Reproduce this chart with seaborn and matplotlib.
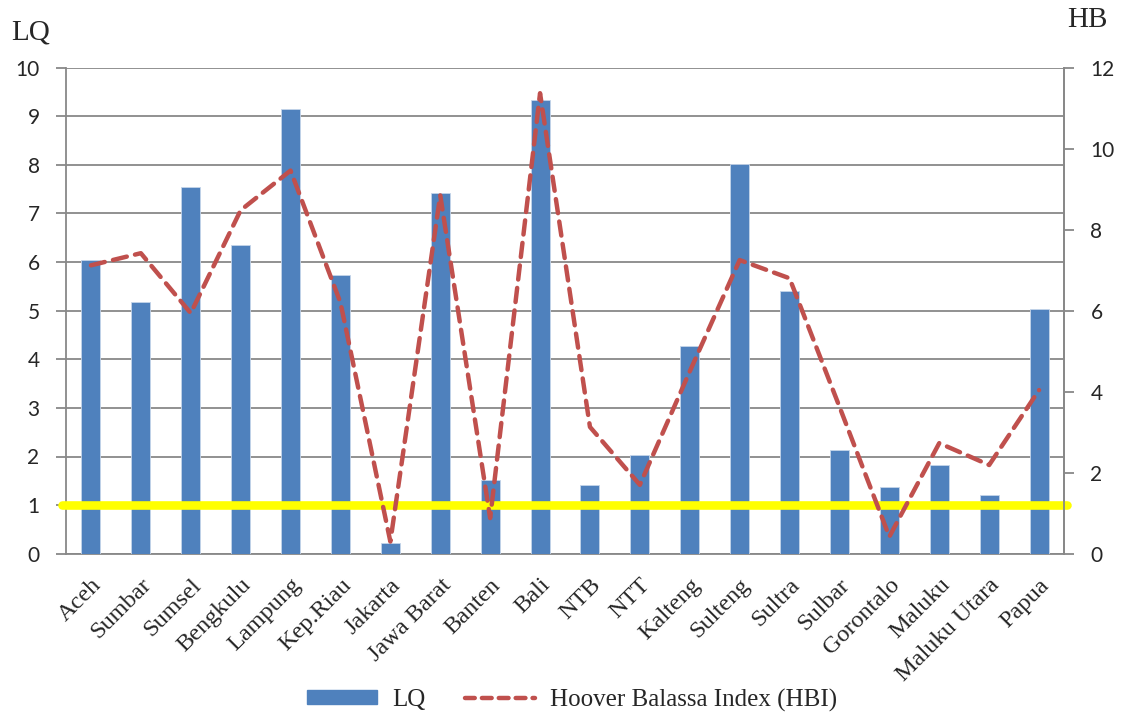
import numpy as np
import pandas as pd
import matplotlib
matplotlib.use("Agg")
import matplotlib.pyplot as plt
import matplotlib.transforms as mtransforms
import seaborn as sns
from matplotlib.patches import Patch
from matplotlib.lines import Line2D

categories = ["Aceh", "Sumbar", "Sumsel", "Bengkulu", "Lampung", "Kep.Riau", "Jakarta",
              "Jawa Barat", "Banten", "Bali", "NTB", "NTT", "Kalteng", "Sulteng", "Sultra",
              "Sulbar", "Gorontalo", "Maluku", "Maluku Utara", "Papua"]
lq = [6.04, 5.17, 7.54, 6.36, 9.14, 5.73, 0.22, 7.43, 1.52, 9.33,
      1.42, 2.03, 4.27, 8.02, 5.40, 2.13, 1.38, 1.82, 1.21, 5.03]
hbi = [7.12, 7.42, 5.94, 8.48, 9.46, 6.20, 0.30, 8.85, 0.88, 11.37,
       3.13, 1.70, 4.50, 7.25, 6.80, 3.63, 0.42, 2.73, 2.19, 4.04]
lq_ticks = list(range(0, 11))
hb_ticks = list(range(0, 13, 2))
threshold = 1

bar_color = "#4F81BD"
line_color = "#C0504D"
grid_color = "#888888"

sns.set_theme(style="white")
plt.rcParams["font.family"] = ["Lato", "DejaVu Sans"]

df = pd.DataFrame({"region": categories, "LQ": lq, "HBI": hbi, "pos": np.arange(len(categories))})

fig = plt.figure(figsize=(11.21, 7.17), dpi=100)
ax = fig.add_axes([66 / 1121, 1 - 553.7 / 717, (1064 - 66) / 1121, (553.7 - 67.7) / 717])

sns.barplot(data=df, x="pos", y="LQ", color=bar_color, saturation=1, width=0.38, ax=ax,
            edgecolor="#C5D5EA", linewidth=0.6, zorder=3)
ax.set_xlim(-0.5, len(categories) - 0.5)
ax.set_ylim(0, 10)
ax.set_yticks(lq_ticks)
ax.yaxis.grid(True, color=grid_color, linewidth=1.3, zorder=0)
ax.set_axisbelow(True)
ax.axhline(threshold, xmin=-0.004, xmax=1.003, color="#FFFF00", linewidth=6.2, clip_on=False, zorder=4)

ax.set_xticks(np.arange(len(categories)))
ax.set_xticklabels(categories, rotation=45, ha="right", rotation_mode="anchor",
                   fontfamily="Liberation Serif", fontsize=17.5)
shift = mtransforms.ScaledTranslation(-4 / 72, 0, fig.dpi_scale_trans)
for lab in ax.get_xticklabels():
    lab.set_transform(lab.get_transform() + shift)
ax.set_xticks(np.arange(len(categories) + 1) - 0.5, minor=True)
ax.tick_params(axis="x", which="major", length=0, pad=15)
ax.tick_params(axis="x", which="minor", length=6, width=1.3, color=grid_color, direction="out")
ax.tick_params(axis="y", length=7, width=1.3, color=grid_color, direction="out", labelsize=15, pad=12)
ax.set_xlabel("")
ax.set_ylabel("")
ax.spines["top"].set_visible(False)
for s in ["left", "bottom", "right"]:
    ax.spines[s].set_color(grid_color)
    ax.spines[s].set_linewidth(1.3)

ax2 = ax.twinx()
sns.lineplot(data=df, x="pos", y="HBI", ax=ax2, color=line_color, linewidth=3.2, sort=False, zorder=5)
ln = ax2.lines[0]
ln.set_dashes((3.2, 1.9))
ln.set_dash_capstyle("round")
ax2.set_ylim(0, 12)
ax2.set_yticks(hb_ticks)
ax2.tick_params(axis="y", length=7, width=1.3, color=grid_color, direction="out", labelsize=15, pad=12)
ax2.set_xlabel("")
ax2.set_ylabel("")
ax2.grid(False)
for s in ["top", "left", "bottom"]:
    ax2.spines[s].set_visible(False)
ax2.spines["right"].set_color(grid_color)
ax2.spines["right"].set_linewidth(1.3)
ax2.set_xlim(-0.5, len(categories) - 0.5)

fig.text(31 / 1121, 1 - 33 / 717, "LQ", fontfamily="Liberation Serif", fontsize=21, ha="center", va="center")
fig.text(1087 / 1121, 1 - 20 / 717, "HB", fontfamily="Liberation Serif", fontsize=21, ha="center", va="center")

handles = [Patch(facecolor=bar_color, edgecolor=bar_color),
           Line2D([0], [0], color=line_color, linewidth=3.2, dashes=(2.2, 1.6), dash_capstyle="round")]
fig.legend(handles, ["LQ", "Hoover Balassa Index (HBI)"], loc="center", ncol=2,
           bbox_to_anchor=(572 / 1121, 1 - 700 / 717), frameon=False,
           prop={"family": "Liberation Serif", "size": 18}, handlelength=2.8, handleheight=0.5,
           columnspacing=1.6, handletextpad=0.6)

fig.savefig("out.png", dpi=100)
